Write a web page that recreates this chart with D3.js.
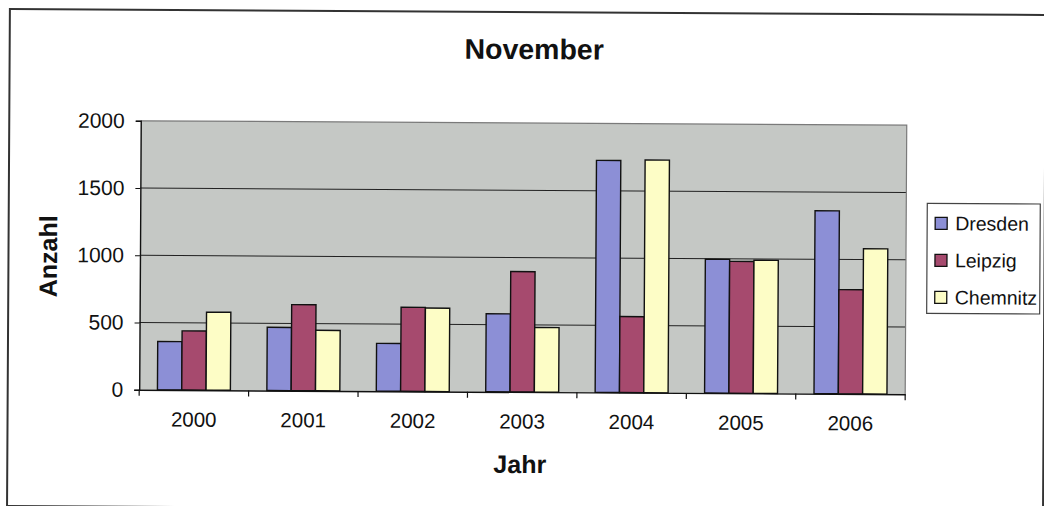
<!DOCTYPE html>
<html>
<head>
<meta charset="utf-8">
<script src="https://cdn.jsdelivr.net/npm/d3@7"></script>
<style>
  html, body { margin: 0; padding: 0; background: #fff; }
  svg { display: block; }
  text { font-family: "Liberation Sans", Arial, sans-serif; fill: #111; }
</style>
</head>
<body>
<svg id="chart" width="1044" height="506"></svg>
<script>
const years = ["2000", "2001", "2002", "2003", "2004", "2005", "2006"];
const seriesNames = ["Dresden", "Leipzig", "Chemnitz"];
const dresden = [360, 470, 355, 580, 1725, 995, 1360];
const leipzig = [440, 640, 625, 895, 565, 980, 775];
const chemnitz = [580, 450, 620, 480, 1730, 990, 1080];
const yTicks = [0, 500, 1000, 1500, 2000];
const colors = ["#8c8fd6", "#a64a6e", "#fdfdc6"];

const values = [dresden, leipzig, chemnitz];
const rows = years.map((y, i) => ({ year: y, vals: seriesNames.map((s, j) => ({ name: s, v: values[j][i], c: colors[j] })) }));

const svg = d3.select("#chart");
svg.append("rect").attr("width", 1044).attr("height", 506).attr("fill", "#fff");
const root = svg.append("g").attr("transform", "rotate(0.33,522,253)");

// outer frame
root.append("rect").attr("x", 8.5).attr("y", 12).attr("width", 1036).attr("height", 497)
  .attr("fill", "none").attr("stroke", "#333").attr("stroke-width", 2);

const P = { left: 140, right: 906, top: 123, bottom: 392 };

const x = d3.scaleBand().domain(years).range([P.left, P.right]).paddingInner(1/3).paddingOuter(1/6);
const xs = d3.scaleBand().domain(seriesNames).range([0, x.bandwidth()]);
const y = d3.scaleLinear().domain([0, 2000]).range([P.bottom, P.top]);

// plot background
root.append("rect").attr("x", P.left).attr("y", P.top).attr("width", P.right - P.left).attr("height", P.bottom - P.top)
  .attr("fill", "#c5c8c5");

// gridlines
root.append("g").selectAll("line").data(yTicks.filter(t => t > 0 && t < 2000)).join("line")
  .attr("x1", P.left).attr("x2", P.right).attr("y1", d => y(d)).attr("y2", d => y(d))
  .attr("stroke", "#222").attr("stroke-width", 1);

// plot border top/right
root.append("path").attr("d", `M${P.left},${P.top}H${P.right}V${P.bottom}`)
  .attr("fill", "none").attr("stroke", "#7a7a7a").attr("stroke-width", 1.2);

// bars
const grp = root.append("g").selectAll("g").data(rows).join("g")
  .attr("transform", d => `translate(${x(d.year)},0)`);
grp.selectAll("rect").data(d => d.vals).join("rect")
  .attr("x", d => xs(d.name)).attr("width", xs.bandwidth())
  .attr("y", d => y(d.v)).attr("height", d => y(0) - y(d.v))
  .attr("fill", d => d.c).attr("stroke", "#111").attr("stroke-width", 1.4);

// y axis
const yAxis = root.append("g").attr("transform", `translate(${P.left},0)`)
  .call(d3.axisLeft(y).tickValues(yTicks).tickSize(5).tickPadding(11).tickFormat(d3.format("d")));
yAxis.select(".domain").attr("stroke", "#111").attr("stroke-width", 1.4);
yAxis.selectAll(".tick line").attr("stroke", "#111");
yAxis.selectAll(".tick text").style("font-size", "21px").attr("fill", "#111");

// x axis
const xAxis = root.append("g").attr("transform", `translate(0,${P.bottom})`)
  .call(d3.axisBottom(x).tickSize(0).tickPadding(22));
xAxis.select(".domain").attr("stroke", "#111").attr("stroke-width", 1.4);
xAxis.selectAll(".tick text").style("font-size", "20.5px").attr("fill", "#111");
// category separator ticks
const bounds = years.map((d, i) => P.left + i * x.step()).concat([P.right]);
root.append("g").selectAll("line").data(bounds).join("line")
  .attr("x1", d => d).attr("x2", d => d).attr("y1", P.bottom).attr("y2", P.bottom + 6)
  .attr("stroke", "#111").attr("stroke-width", 1.2);

// title
root.append("text").attr("x", 533).attr("y", 59).attr("text-anchor", "middle")
  .style("font-size", "28.5px").style("font-weight", "bold").text("November");
// axis titles
root.append("text").attr("x", 521).attr("y", 473).attr("text-anchor", "middle")
  .style("font-size", "25px").style("font-weight", "bold").text("Jahr");
root.append("text").attr("transform", "translate(57,259) rotate(-90)").attr("text-anchor", "middle")
  .style("font-size", "25px").style("font-weight", "bold").text("Anzahl");

// legend
const L = { x: 927, y: 201, w: 113, h: 110 };
root.append("rect").attr("x", L.x).attr("y", L.y).attr("width", L.w).attr("height", L.h)
  .attr("fill", "#fff").attr("stroke", "#444").attr("stroke-width", 1.2);
const li = root.append("g").selectAll("g").data(seriesNames).join("g")
  .attr("transform", (d, i) => `translate(${L.x + 8},${L.y + 20 + i * 37})`);
li.append("rect").attr("x", 0).attr("y", -6).attr("width", 12).attr("height", 12)
  .attr("fill", (d, i) => colors[i]).attr("stroke", "#111").attr("stroke-width", 1.3);
li.append("text").attr("x", 20).attr("y", 0).attr("dy", "0.35em")
  .style("font-size", "19.5px").text(d => d);
</script>
</body>
</html>
